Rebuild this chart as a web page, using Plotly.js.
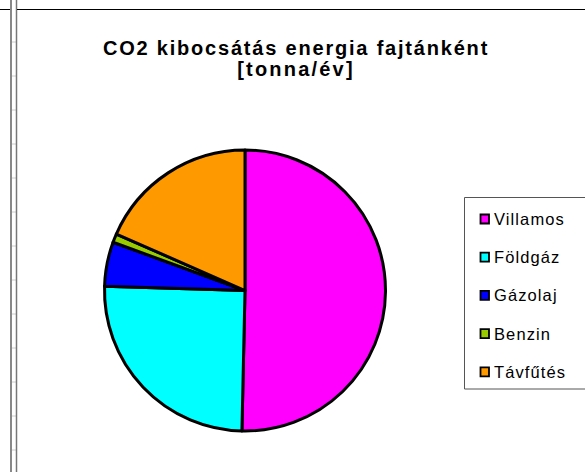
<!DOCTYPE html>
<html>
<head>
<meta charset="utf-8">
<script src="https://cdn.plot.ly/plotly-3.0.1.min.js"></script>
<style>
  body { margin: 0; padding: 0; background: #fff; }
  #chart { width: 585px; height: 472px; }
</style>
</head>
<body>
<div id="chart"></div>
<script>
const labels = ['Villamos', 'Földgáz', 'Gázolaj', 'Benzin', 'Távfűtés'];
const values = [50.3, 25.1, 5.1, 1.0, 18.4];
const colors = ['#FF00FF', '#00FFFF', '#0000FF', '#99CC00', '#FF9900'];

const W = 585, H = 472;
// pixel -> paper helpers (margins are zero)
function px(x) { return x / W; }
function py(y) { return 1 - y / H; }

function line(x0, y0, x1, y1, color, width) {
  return {
    type: 'line', xref: 'paper', yref: 'paper',
    x0: px(x0), y0: py(y0), x1: px(x1), y1: py(y1),
    line: { color: color, width: width }
  };
}

const shapes = [];
const annotations = [];

// spreadsheet strip on the left
shapes.push(line(0, 9.5, 10, 9.5, '#000', 1));
for (let y = 42; y < H; y += 34) {
  shapes.push(line(12, y, 16, y, '#cccccc', 1));
}
shapes.push(line(11, 0, 11, H, '#888888', 2));
shapes.push(line(16.5, 0, 16.5, H, '#777777', 1.5));
// chart border top
shapes.push(line(17, 9.5, W, 9.5, '#000', 1.2));

// legend box
shapes.push({
  type: 'rect', xref: 'paper', yref: 'paper',
  x0: px(464.5), y0: py(197.5), x1: px(W + 10), y1: py(389),
  line: { color: '#555555', width: 1 }, fillcolor: 'rgba(0,0,0,0)'
});

// legend entries
const rowTop = 219, rowGap = 38.2;
labels.forEach(function(lab, i) {
  const cy = rowTop + i * rowGap;
  shapes.push({
    type: 'rect', xref: 'paper', yref: 'paper',
    x0: px(480.5), y0: py(cy - 4.5), x1: px(489), y1: py(cy + 4.5),
    line: { color: '#000', width: 1.8 }, fillcolor: colors[i]
  });
  annotations.push({
    xref: 'paper', yref: 'paper', x: px(492), y: py(cy),
    xanchor: 'left', yanchor: 'middle', showarrow: false,
    text: '<span style="letter-spacing:1.1px">' + lab + '</span>',
    font: { family: 'Liberation Sans, Arial, sans-serif', size: 16.5, color: '#000' }
  });
});

const trace = {
  type: 'pie',
  labels: labels,
  values: values,
  sort: false,
  direction: 'clockwise',
  rotation: 0,
  textinfo: 'none',
  hoverinfo: 'label+value+percent',
  marker: { colors: colors, line: { color: '#000', width: 3 } },
  domain: { x: [px(245 - 140.5), px(245 + 140.5)], y: [py(290.5 + 140.5), py(290.5 - 140.5)] },
  showlegend: false
};

const layout = {
  width: W,
  height: H,
  margin: { l: 0, r: 0, t: 0, b: 0 },
  paper_bgcolor: '#fff',
  showlegend: false,
  title: {
    text: '<span style="font-size:20px;letter-spacing:1.8px">CO2 kibocsátás energia fajtánként</span><br>' +
          '<span style="font-size:20px;letter-spacing:2.2px">[tonna/év]</span>',
    font: { family: 'Liberation Sans, Arial, sans-serif', size: 16.5, color: '#000', weight: 'bold' },
    xref: 'paper', yref: 'paper',
    x: px(296), xanchor: 'center',
    y: py(55), yanchor: 'top'
  },
  shapes: shapes,
  annotations: annotations
};

Plotly.newPlot('chart', [trace], layout, { displayModeBar: false, staticPlot: true });
</script>
</body>
</html>
